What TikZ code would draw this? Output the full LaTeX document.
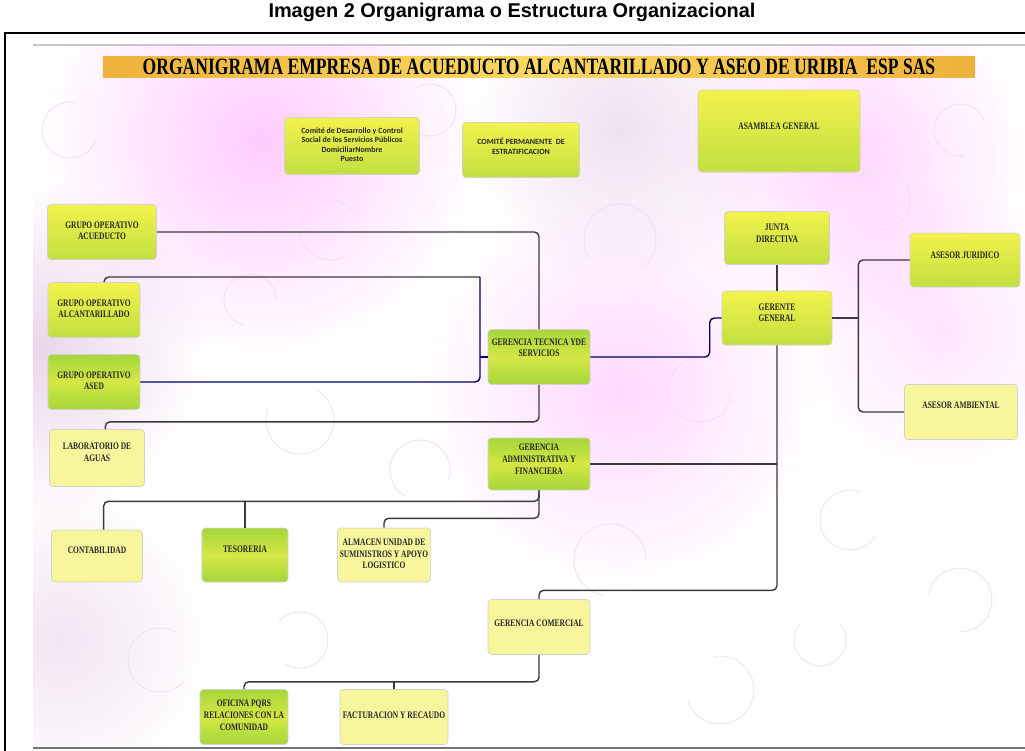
\documentclass[tikz,border=0pt]{standalone}
\usepackage{fontspec}
\setmainfont{Liberation Serif}
\newfontfamily\boxfont[FakeStretch=0.75]{Liberation Serif}
\newfontfamily\comitefont{Carlito}
\newfontfamily\titlefont{Liberation Sans}
\usepackage{tikz}
\usetikzlibrary{positioning,calc}

\definecolor{boxyellow}{HTML}{F3F24C}
\definecolor{boxgreen}{HTML}{A6D63A}
\definecolor{boxpale}{HTML}{F8F69C}
\definecolor{bannerdark}{HTML}{EEB23C}
\definecolor{bannerlight}{HTML}{F9D862}
\definecolor{linkgray}{HTML}{3A3A3A}

\begin{document}
\begin{tikzpicture}[x=0.03cm, y=-0.03cm,
    base/.style={rounded corners=3pt, draw=black!18, line width=0.5pt,
        minimum width=3.06cm, minimum height=1.65cm, align=center, inner sep=2pt,
        text depth=8pt, font=\boxfont\bfseries\fontsize{8.5}{10}\selectfont, text=black!85},
    box/.style={base, top color=boxyellow, bottom color=boxgreen!65!boxyellow},
    greenbox/.style={base, top color=boxgreen, bottom color=boxgreen, middle color=boxyellow!60!boxgreen},
    palebox/.style={base, fill=boxpale},
    link/.style={draw=linkgray, line width=1.2pt, rounded corners=4pt},
    swirl/.style={draw=violet!12, line width=0.7pt}]
    \useasboundingbox (0,0) rectangle (1025,751);

    % Page heading and frame
    \node[anchor=base, font=\titlefont\bfseries\fontsize{17}{20}\selectfont] (encabezado) at (512,17)
        {Imagen 2 Organigrama o Estructura Organizacional};
    \draw[line width=1.3pt] (5,770) -- (5,33) -- (1040,33);

    % Scanned sheet
    \fill[white] (33,45) rectangle (1025,748);
    \begin{scope}[blend mode=multiply]
        \clip (33,45) rectangle (1025,748);
        \shade[inner color=magenta!20, outer color=white] (260,140) circle (220);
        \shade[inner color=violet!12, outer color=white] (620,130) circle (160);
        \shade[inner color=magenta!16, outer color=white] (850,160) circle (180);
        \shade[inner color=violet!16, outer color=white] (40,350) circle (170);
        \shade[inner color=magenta!15, outer color=white] (620,390) circle (200);
        \shade[inner color=magenta!10, outer color=white] (940,330) circle (150);
        \shade[inner color=violet!10, outer color=white] (60,640) circle (160);
    \end{scope}
    \foreach \cx/\cy/\r/\a in {70/130/28/20, 210/160/34/200, 330/230/30/60, 430/110/26/240,
        620/240/36/150, 700/390/32/10, 880/200/30/210, 960/130/26/80, 300/420/34/300,
        420/470/30/120, 160/660/32/40, 300/640/28/220, 610/560/36/100, 720/690/34/260,
        850/520/30/30, 960/600/32/190, 250/300/26/100, 820/640/26/320}
        \draw[swirl] (\cx,\cy) ++(\a:\r) arc[start angle=\a, end angle=\a+260, radius=\r];
    \draw[black!22, line width=1.5pt] (33,45) -- (1025,45);
    \draw[black!55, line width=2pt] (33,748) -- (1025,748);

    % Banner
    \node[left color=bannerdark, right color=bannerdark, middle color=bannerlight,
        minimum width=26.16cm, minimum height=0.63cm, inner sep=0pt,
        font=\boxfont\bfseries\fontsize{20}{22}\selectfont] (banner) at (539,67)
        {ORGANIGRAMA EMPRESA DE ACUEDUCTO ALCANTARILLADO Y ASEO DE URIBIA\ \ ESP SAS};

    % Top bodies
    \node[box, minimum width=4.05cm, minimum height=1.71cm, text depth=2pt, font=\comitefont\bfseries\fontsize{6.8}{8}\selectfont] (comite) at (352,146)
        {Comité de Desarrollo y Control\\Social de los Servicios Públicos\\DomiciliarNombre\\Puesto};
    \node[box, minimum width=3.51cm, text depth=6pt, font=\comitefont\bfseries\fontsize{6.8}{8.5}\selectfont] (permanente) at (521,150)
        {COMITÉ PERMANENTE\ \ DE\\ESTRATIFICACION};
    \node[box, minimum width=4.86cm, minimum height=2.46cm] (asamblea) at (779,131) {ASAMBLEA GENERAL};

    % Management
    \node[box, minimum width=3.15cm, minimum height=1.59cm] (junta) at (777,238) {JUNTA\\DIRECTIVA};
    \node[box, minimum width=3.3cm, minimum height=1.62cm, text depth=9pt] (gerente) at (777,318) {GERENTE\\GENERAL};
    \node[box, minimum width=3.3cm, minimum height=1.62cm, text depth=9pt] (juridico) at (965,260) {ASESOR JURIDICO};
    \node[palebox, minimum width=3.39cm, text depth=12pt] (ambiental) at (961,412) {ASESOR AMBIENTAL};
    \node[greenbox, text depth=16pt] (tecnica) at (539,357) {GERENCIA TECNICA YDE\\SERVICIOS};
    \node[greenbox, minimum height=1.56cm] (administrativa) at (539,464) {GERENCIA\\ADMINISTRATIVA Y\\FINANCIERA};
    \node[palebox, text depth=6pt] (comercial) at (539,627) {GERENCIA COMERCIAL};

    % Operating groups
    \node[box, minimum width=3.27cm, text depth=2pt] (acueducto) at (102,232) {GRUPO OPERATIVO\\ACUEDUCTO};
    \node[box, minimum width=2.76cm, text depth=2pt] (alcantarillado) at (94,310) {GRUPO OPERATIVO\\ALCANTARILLADO};
    \node[greenbox, minimum width=2.76cm, text depth=2pt] (aseo) at (94,382) {GRUPO OPERATIVO\\ASED};
    \node[palebox, minimum width=2.85cm, minimum height=1.71cm, text depth=10pt] (laboratorio) at (97,458) {LABORATORIO DE\\AGUAS};

    % Administrative and commercial units
    \node[palebox, minimum width=2.73cm, minimum height=1.56cm, text depth=10pt] (contabilidad) at (97,556) {CONTABILIDAD};
    \node[greenbox, minimum width=2.58cm, minimum height=1.62cm, text depth=10pt] (tesoreria) at (245,555) {TESORERIA};
    \node[palebox, minimum width=2.76cm, minimum height=1.62cm, text depth=2pt] (almacen) at (384,555) {ALMACEN UNIDAD DE\\SUMINISTROS Y APOYO\\LOGISTICO};
    \node[greenbox, minimum width=2.64cm, text depth=3pt] (oficina) at (244,717) {OFICINA PQRS\\RELACIONES CON LA\\COMUNIDAD};
    \node[palebox, minimum width=3.24cm, text depth=3pt] (facturacion) at (394,717) {FACTURACION Y RECAUDO};

    % Lines to technical management
    \coordinate (tbus) at (480,277);
    \draw[link] (acueducto.east) -| (tecnica.north);
    \draw[link] ([xshift=0.3cm]alcantarillado.north) |- (tbus);
    \draw[link, draw=blue!40!black] (tbus) |- (aseo.east);
    \draw[link, draw=blue!55!black] (tbus |- tecnica.west) -- (tecnica.west);
    \draw[link] (tecnica.south) -- ++(0,37) -| ([xshift=0.25cm]laboratorio.north);

    % Lines to general manager
    \draw[link] (junta.south) -- (gerente.north);
    \draw[link, draw=blue!35!black] (tecnica.east) -| ([xshift=-0.36cm]gerente.west) -- (gerente.west);
    \draw[link] (gerente.east) -- ++(26,0) coordinate (abus);
    \draw[link] (abus) |- (juridico.west);
    \draw[link] (abus) |- (ambiental.west);
    \draw[link] (gerente.south) -- ++(0,245) -| (comercial.north);
    \draw[link] (gerente.south |- administrativa.east) -- (administrativa.east);

    % Lines below the managements
    \draw[link] (administrativa.south) -- ++(0,11) coordinate (fbus) -| ([xshift=0.2cm]contabilidad.north);
    \draw[link] (tesoreria.north) -- (tesoreria.north |- fbus);
    \draw[link] (administrativa.south) -- ++(0,28) -| (almacen.north);
    \draw[link] (comercial.south) -- ++(0,27) coordinate (cbus) -| (oficina.north);
    \draw[link] (facturacion.north) -- (facturacion.north |- cbus);
\end{tikzpicture}
\end{document}
